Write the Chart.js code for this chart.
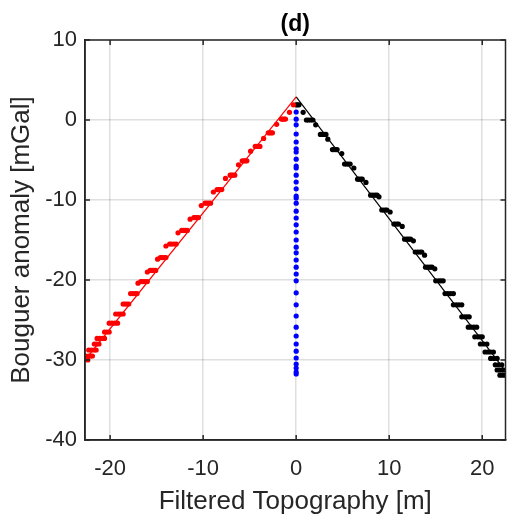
<!DOCTYPE html>
<html><head><meta charset="utf-8">
<script src="https://cdn.jsdelivr.net/npm/chart.js@4.4.1/dist/chart.umd.min.js"></script>
<style>html,body{margin:0;padding:0;background:#fff;overflow:hidden}#wrap{width:507px;height:517px;position:relative}</style>
</head><body><div id="wrap"><canvas id="c" width="507" height="517"></canvas></div>
<script>
const titleText = "(d)";
const xAxisTitle = "Filtered Topography [m]";
const yAxisTitle = "Bouguer anomaly [mGal]";
const xTicks = [-20, -10, 0, 10, 20];
const yTicks = [10, 0, -10, -20, -30, -40];
const xRange = [-22.7, 22.5];
const yRange = [-40, 10];

const redX = [-0.3,-0.72,-1.6,-1.45,-1.3,-1.15,-2.1,-3.0,-2.85,-2.7,-2.55,-3.5,-4.4,-4.25,-4.1,-3.9,-4.9,-5.8,-5.6,-5.45,-5.3,-6.2,-7.1,-6.95,-6.8,-6.6,-7.6,-8.5,-8.35,-8.2,-8.0,-8.9,-9.8,-9.6,-9.4,-9.2,-10.2,-11.0,-10.85,-10.7,-10.5,-11.4,-12.3,-12.1,-11.9,-11.7,-12.7,-13.6,-13.4,-13.15,-12.9,-14.0,-14.6,-14.4,-14.2,-14.0,-14.9,-15.7,-15.5,-15.3,-15.1,-16.0,-16.7,-16.5,-16.25,-16.0,-17.0,-17.8,-17.55,-17.3,-17.1,-18.6,-18.4,-18.2,-18.0,-19.4,-19.1,-18.85,-18.6,-20.1,-19.8,-19.5,-19.2,-20.6,-20.35,-20.1,-21.4,-21.1,-20.8,-20.6,-21.7,-21.45,-21.2,-22.3,-22.0,-21.7,-21.5,-22.6,-22.3,-22.1,-21.9,-22.7,-22.5,-22.4];
const redY = [1.9,0.96,0.12,0.12,0.12,0.12,-0.54,-1.6,-1.6,-1.6,-1.6,-2.3,-3.3,-3.3,-3.3,-3.3,-3.9,-5.1,-5.1,-5.1,-5.1,-5.6,-6.9,-6.9,-6.9,-6.9,-7.3,-8.7,-8.7,-8.7,-8.7,-9.0,-10.4,-10.4,-10.4,-10.4,-10.7,-12.2,-12.2,-12.2,-12.2,-12.4,-13.8,-13.8,-13.8,-13.8,-14.1,-15.5,-15.5,-15.5,-15.5,-15.75,-17.2,-17.2,-17.2,-17.2,-17.4,-18.8,-18.8,-18.8,-18.8,-19.0,-20.2,-20.2,-20.2,-20.2,-20.4,-21.7,-21.7,-21.7,-21.7,-23.0,-23.0,-23.0,-23.0,-24.25,-24.25,-24.25,-24.25,-25.4,-25.4,-25.4,-25.4,-26.5,-26.5,-26.5,-27.3,-27.3,-27.3,-27.3,-28.0,-28.0,-28.0,-28.75,-28.75,-28.75,-28.75,-29.5,-29.5,-29.5,-29.5,-29.9,-29.9,-30.0];

const blackX = [0.0,0.15,0.3,0.75,1.1,1.3,1.55,1.8,2.1,2.6,2.8,3.0,3.2,3.4,3.9,4.05,4.25,4.4,4.9,5.2,5.4,5.6,5.8,6.2,6.6,6.75,6.95,7.1,7.5,8.0,8.25,8.5,8.7,8.9,9.2,9.4,9.6,9.75,10.1,10.5,10.65,10.85,11.0,11.4,11.65,11.9,12.1,12.3,12.6,12.8,13.05,13.3,13.5,13.8,13.9,14.15,14.4,14.6,14.9,15.0,15.3,15.55,15.8,16.0,16.3,16.6,16.9,16.9,17.2,17.5,17.8,17.8,18.1,18.35,18.6,18.5,18.8,19.1,19.4,19.2,19.5,19.75,20.0,19.8,20.15,20.5,20.3,20.6,20.9,21.2,20.9,21.25,21.6,21.4,21.75,22.1,21.6,21.9,22.2,22.5,21.9,22.2,22.5];
const blackY = [1.9,1.9,1.9,0.96,0.0,0.0,0.0,0.0,-0.6,-1.8,-1.8,-1.8,-1.8,-2.4,-3.7,-3.7,-3.7,-3.7,-4.2,-5.5,-5.5,-5.5,-5.5,-6.0,-7.4,-7.4,-7.4,-7.4,-7.8,-9.4,-9.4,-9.4,-9.4,-9.6,-11.25,-11.25,-11.25,-11.25,-11.5,-13.0,-13.0,-13.0,-13.0,-13.3,-14.9,-14.9,-14.9,-14.9,-15.1,-16.5,-16.5,-16.5,-16.5,-16.9,-18.4,-18.4,-18.4,-18.4,-18.6,-20.1,-20.1,-20.1,-20.1,-21.7,-21.7,-21.7,-21.7,-23.1,-23.1,-23.1,-23.1,-24.6,-24.6,-24.6,-24.6,-25.9,-25.9,-25.9,-25.9,-27.1,-27.1,-27.1,-27.1,-28.0,-28.0,-28.0,-29.0,-29.0,-29.0,-29.0,-29.8,-29.8,-29.8,-30.6,-30.6,-30.6,-31.25,-31.25,-31.25,-31.25,-31.9,-31.9,-31.9];

const blueX = 0;
const blueY = [1.0,0.1,-0.6,-1.75,-2.75,-3.6,-4.0,-4.9,-5.75,-6.0,-6.9,-7.75,-8.6,-9.5,-9.75,-10.4,-11.4,-12.25,-13.1,-14.0,-15.0,-15.9,-16.6,-17.5,-18.4,-19.25,-20.1,-21.6,-23.1,-24.5,-25.9,-27.0,-28.0,-28.9,-29.75,-30.5,-31.0,-31.5,-31.75];

const redLineX = [-22.7, 0];
const redLineY = [-30.0, 2.9];
const blackLineX = [0, 22.5];
const blackLineY = [2.9, -31.4];

const FONT = "'Liberation Sans', Arial, Helvetica, sans-serif";
const TXT = '#262626';
const PLOT_RIGHT = 505.5;
const toPts = (xs, ys) => ys.map((y, i) => ({x: Array.isArray(xs) ? xs[i] : xs, y}));

const boxPlugin = {
  id: 'box',
  afterLayout(chart) {
    try {
      const a = chart.chartArea;
      a.right = PLOT_RIGHT; a.width = a.right - a.left;
      const x = chart.scales.x;
      x.right = PLOT_RIGHT; x.width = x.right - x.left;
      x.configure();
    } catch (e) {}
  },
  afterDraw(chart) {
    const {ctx, chartArea: a, scales} = chart;
    ctx.save();
    ctx.strokeStyle = TXT;
    ctx.lineWidth = 1.5;
    const tl = 5;
    ctx.beginPath();
    xTicks.forEach(v => {
      const px = scales.x.getPixelForValue(v);
      ctx.moveTo(px, a.bottom); ctx.lineTo(px, a.bottom - tl);
      ctx.moveTo(px, a.top); ctx.lineTo(px, a.top + tl);
    });
    yTicks.forEach(v => {
      const py = scales.y.getPixelForValue(v);
      ctx.moveTo(a.left, py); ctx.lineTo(a.left + tl, py);
      ctx.moveTo(a.right, py); ctx.lineTo(a.right - tl, py);
    });
    ctx.stroke();
    ctx.strokeRect(a.left, a.top, a.right - a.left, a.bottom - a.top);
    ctx.fillStyle = '#000';
    ctx.font = 'bold 23px ' + FONT;
    ctx.textAlign = 'center';
    ctx.textBaseline = 'alphabetic';
    ctx.fillText(titleText, (a.left + a.right) / 2, 31);
    ctx.restore();
  }
};

new Chart(document.getElementById('c'), {
  type: 'scatter',
  data: {
    datasets: [
      {data: toPts(blueX, blueY), backgroundColor: '#0000ff', borderColor: '#0000ff', pointRadius: 2.6, borderWidth: 0, order: 1},
      {data: toPts(redX, redY), backgroundColor: '#ff0000', borderColor: '#ff0000', pointRadius: 2.6, borderWidth: 0, order: 3},
      {data: toPts(blackX, blackY), backgroundColor: '#000000', borderColor: '#000000', pointRadius: 2.6, borderWidth: 0, order: 3},
      {data: toPts(redLineX, redLineY), showLine: true, borderColor: '#ff0000', borderWidth: 1.2, pointRadius: 0, order: 2},
      {data: toPts(blackLineX, blackLineY), showLine: true, borderColor: '#000000', borderWidth: 1.2, pointRadius: 0, order: 2}
    ]
  },
  options: {
    responsive: false,
    devicePixelRatio: 1,
    animation: false,
    layout: {padding: {top: 40, right: 1.5, left: 0, bottom: 0}},
    plugins: {legend: {display: false}, tooltip: {enabled: false}},
    scales: {
      x: {
        type: 'linear', min: xRange[0], max: xRange[1],
        afterBuildTicks: s => { s.ticks = xTicks.map(v => ({value: v})); },
        afterFit: s => { s.height = 77; s.paddingLeft = 0; s.paddingRight = 0; },
        ticks: {font: {family: FONT, size: 22}, color: TXT, padding: 0},
        grid: {color: 'rgba(38,38,38,0.15)', lineWidth: 1.5, drawTicks: true, tickLength: 16, tickColor: 'rgba(0,0,0,0)'},
        border: {color: TXT, width: 1.5},
        title: {display: true, text: xAxisTitle, font: {family: FONT, size: 26}, color: TXT, padding: {top: 0, bottom: 0}}
      },
      y: {
        type: 'linear', min: yRange[0], max: yRange[1],
        afterBuildTicks: s => { s.ticks = yTicks.map(v => ({value: v})); },
        afterFit: s => { s.width = 85; s.paddingTop = 0; s.paddingBottom = 0; },
        ticks: {font: {family: FONT, size: 22}, color: TXT, padding: 8},
        grid: {color: 'rgba(38,38,38,0.15)', lineWidth: 1.5, drawTicks: false},
        border: {color: TXT, width: 1.5},
        title: {display: true, text: yAxisTitle, font: {family: FONT, size: 26}, color: TXT, padding: {top: 6, bottom: 0}}
      }
    }
  },
  plugins: [boxPlugin]
});
</script></body></html>
